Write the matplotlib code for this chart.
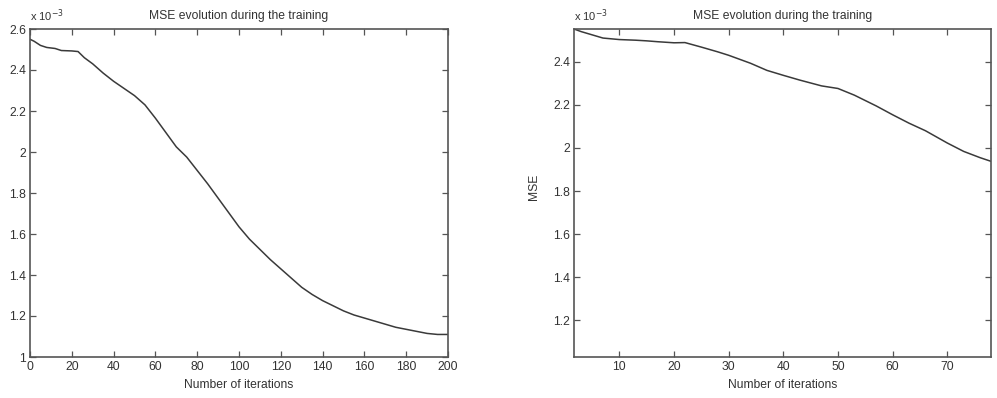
import matplotlib
matplotlib.use("Agg")
import matplotlib.pyplot as plt

plt.rcParams['font.family'] = ['Liberation Sans', 'DejaVu Sans']

# Left panel: 200 iterations (MSE x 1e-3)
left_iter = [0, 2, 5, 8, 12, 15, 20, 23, 26, 30, 35, 40, 45, 50, 55, 60, 65, 70, 75, 80,
             85, 90, 95, 100, 105, 110, 115, 120, 125, 130, 135, 140, 145, 150, 155,
             160, 165, 170, 175, 180, 185, 190, 195, 200]
left_mse = [2.55, 2.54, 2.52, 2.51, 2.505, 2.495, 2.493, 2.49, 2.46, 2.43, 2.385, 2.345,
            2.31, 2.275, 2.23, 2.165, 2.095, 2.025, 1.975, 1.91, 1.845, 1.775, 1.705,
            1.635, 1.575, 1.525, 1.475, 1.43, 1.385, 1.34, 1.305, 1.275, 1.25, 1.225,
            1.205, 1.19, 1.175, 1.16, 1.145, 1.135, 1.125, 1.115, 1.11, 1.11]

# Right panel: ~78 iterations (MSE x 1e-3)
right_iter = [1.7, 3, 5, 7, 10, 13, 15, 17, 20, 22, 25, 28, 30, 34, 37, 40, 43, 47, 50,
              53, 57, 60, 63, 66, 70, 73, 76, 78]
right_mse = [2.552, 2.54, 2.525, 2.51, 2.503, 2.50, 2.497, 2.493, 2.488, 2.489, 2.468,
             2.446, 2.43, 2.393, 2.36, 2.337, 2.315, 2.288, 2.276, 2.245, 2.195, 2.154,
             2.115, 2.08, 2.023, 1.984, 1.955, 1.938]

left_xticks = [0, 20, 40, 60, 80, 100, 120, 140, 160, 180, 200]
left_yticks = [1.0, 1.2, 1.4, 1.6, 1.8, 2.0, 2.2, 2.4, 2.6]
right_xticks = [10, 20, 30, 40, 50, 60, 70]
right_yticks = [1.2, 1.4, 1.6, 1.8, 2.0, 2.2, 2.4]

title = "MSE evolution during the training"
xlabel = "Number of iterations"
ylabel = "MSE"

W, H = 997, 398
fig = plt.figure(figsize=(W / 100, H / 100), dpi=100)
fig.patch.set_facecolor('white')

line_col = '#3a3a3a'
spine_col = '#555555'
text_col = '#333333'
fs = 8.7


def fmt(v):
    return '%g' % v


def style(ax, xticks, yticks, xlim, ylim):
    ax.set_xlim(*xlim)
    ax.set_ylim(*ylim)
    ax.set_xticks(xticks)
    ax.set_xticklabels([fmt(v) for v in xticks])
    ax.set_yticks(yticks)
    ax.set_yticklabels([fmt(v) for v in yticks])
    ax.tick_params(direction='in', top=True, right=True, length=4, width=0.9,
                   colors=spine_col, labelcolor=text_col, labelsize=fs, pad=3)
    for s in ax.spines.values():
        s.set_color(spine_col)
        s.set_linewidth(1.2)
    ax.set_title(title, fontsize=fs, color=text_col, pad=7)
    ax.set_xlabel(xlabel, fontsize=fs, color=text_col, labelpad=4)
    ax.text(0.0, 1.015, r'x 10$^{-3}$', transform=ax.transAxes, fontsize=fs - 0.7,
            color=text_col, ha='left', va='bottom')


ax1 = fig.add_axes([30 / W, 1 - 357 / H, 418 / W, 328 / H])
ax1.plot(left_iter, left_mse, color=line_col, lw=1.1)
style(ax1, left_xticks, left_yticks, (0, 200), (1.0, 2.6))
ax1.set_ylabel(ylabel, fontsize=fs, color=text_col)
ax1.yaxis.set_label_coords(-27 / 418, 0.52)

ax2 = fig.add_axes([574 / W, 1 - 357 / H, 417 / W, 328 / H])
ax2.plot(right_iter, right_mse, color=line_col, lw=1.1)
style(ax2, right_xticks, right_yticks, (1.7, 78), (1.03, 2.552))
ax2.set_ylabel(ylabel, fontsize=fs, color=text_col)
ax2.yaxis.set_label_coords(-34 / 417, 0.52)

fig.savefig('out.png', dpi=100, facecolor='white')
